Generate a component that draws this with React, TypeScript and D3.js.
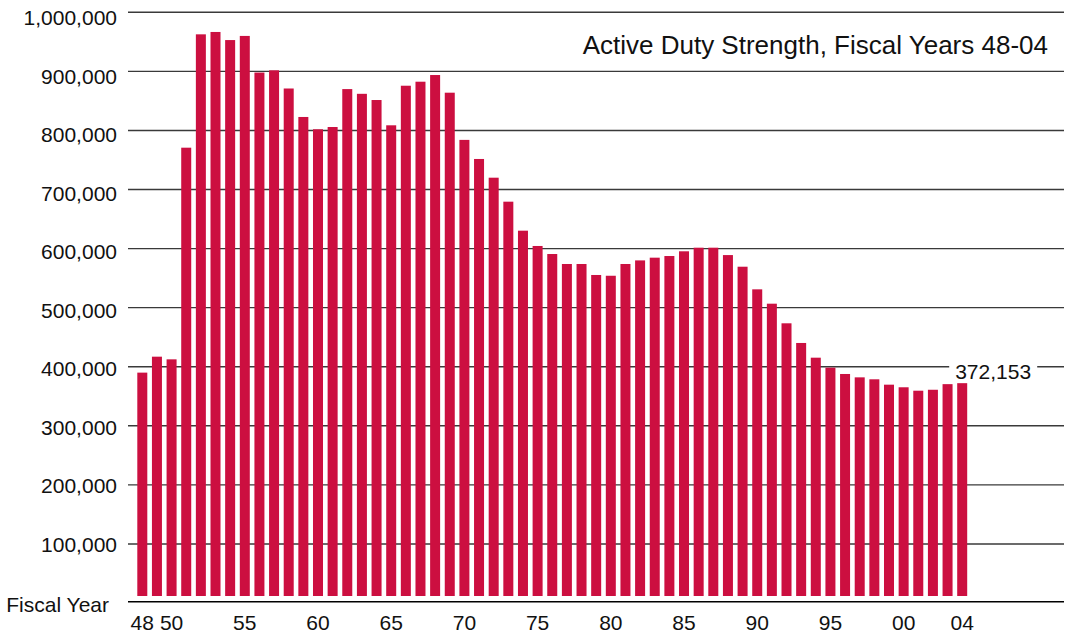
import React from 'react';
import * as d3 from 'd3';

// fiscal years 1948 - 2004
const years = [
  '48', '49', '50', '51', '52', '53', '54', '55', '56', '57',
  '58', '59', '60', '61', '62', '63', '64', '65', '66', '67',
  '68', '69', '70', '71', '72', '73', '74', '75', '76', '77',
  '78', '79', '80', '81', '82', '83', '84', '85', '86', '87',
  '88', '89', '90', '91', '92', '93', '94', '95', '96', '97',
  '98', '99', '00', '01', '02', '03', '04',
];

const strength = [
  390000, 417000, 412500, 770800, 962700, 966700, 953000, 960000, 898000, 901800,
  871000, 822800, 802000, 805800, 870000, 862000, 851500, 808700, 875700, 882500,
  893800, 863900, 784000, 751700, 720000, 679400, 630300, 604400, 590800, 573900,
  573900, 555300, 554000, 573900, 580000, 584600, 587400, 595400, 601500, 601500,
  589000, 569300, 531000, 506700, 473500, 440200, 415300, 398400, 387700, 382000,
  378700, 369600, 365200, 359400, 361000, 370500, 372153,
];

const yTicks = [100000, 200000, 300000, 400000, 500000, 600000, 700000, 800000, 900000, 1000000];
const xTickLabels = ['48', '50', '55', '60', '65', '70', '75', '80', '85', '90', '95', '00', '04'];

const title = 'Active Duty Strength, Fiscal Years 48-04';
const xAxisTitle = 'Fiscal Year';
const lastLabel = '372,153';

const W = 1072;
const H = 635;
const FONT = '"Liberation Sans", Arial, Helvetica, sans-serif';
const BAR = '#cc0f40';

const App: React.FC = () => {
  const x = d3.scaleBand<string>()
    .domain(years)
    .range([137.3, 967.2])
    .paddingInner(0.317)
    .paddingOuter(0);

  const y = d3.scaleLinear().domain([0, 1000000]).range([603, 12.3]);
  // the tick labels sit on a slightly tighter spacing than the grid
  const yLabel = d3.scaleLinear().domain([0, 1000000]).range([603, 17.5]);

  const barBottom = 596;
  const fmt = d3.format(',');

  const lastYear = years[years.length - 1];
  const lastVal = strength[strength.length - 1];
  const labelX = (x(lastYear) as number) - 2;
  const labelY = y(400000);

  return (
    <>
      <style>{`body{margin:0}`}</style>
      <svg width={W} height={H} style={{ display: 'block', background: '#fff' }} fontFamily={FONT}>
        {/* gridlines */}
        {yTicks.map(t => (
          <line key={t} x1={128} x2={1064} y1={y(t)} y2={y(t)} stroke="#3a3a3a" strokeWidth={1.4} />
        ))}
        {/* baseline */}
        <line x1={128} x2={1064} y1={601.7} y2={601.7} stroke="#000" strokeWidth={1.4} />

        {/* y labels */}
        {yTicks.map(t => (
          <text key={t} x={117} y={yLabel(t) + 7.5} textAnchor="end" fontSize={21} fill="#111">
            {fmt(t)}
          </text>
        ))}
        <text x={109} y={611.7} textAnchor="end" fontSize={21} fill="#111">{xAxisTitle}</text>

        {/* bars */}
        {years.map((yr, i) => (
          <rect
            key={yr}
            x={x(yr)}
            y={y(strength[i])}
            width={x.bandwidth()}
            height={barBottom - y(strength[i])}
            fill={BAR}
          />
        ))}

        {/* x tick labels */}
        {xTickLabels.map(l => (
          <text key={l} x={(x(l) as number) + x.bandwidth() / 2} y={630} textAnchor="middle" fontSize={21} fill="#111">
            {l}
          </text>
        ))}

        {/* last value annotation */}
        <rect x={labelX - 6} y={labelY - 10} width={88} height={18} fill="#fff" />
        <text x={labelX} y={y(lastVal) - 4} fontSize={21} fill="#111">{lastLabel}</text>

        <text x={1048} y={54} textAnchor="end" fontSize={26} fill="#111">{title}</text>
      </svg>
    </>
  );
};

export default App;
